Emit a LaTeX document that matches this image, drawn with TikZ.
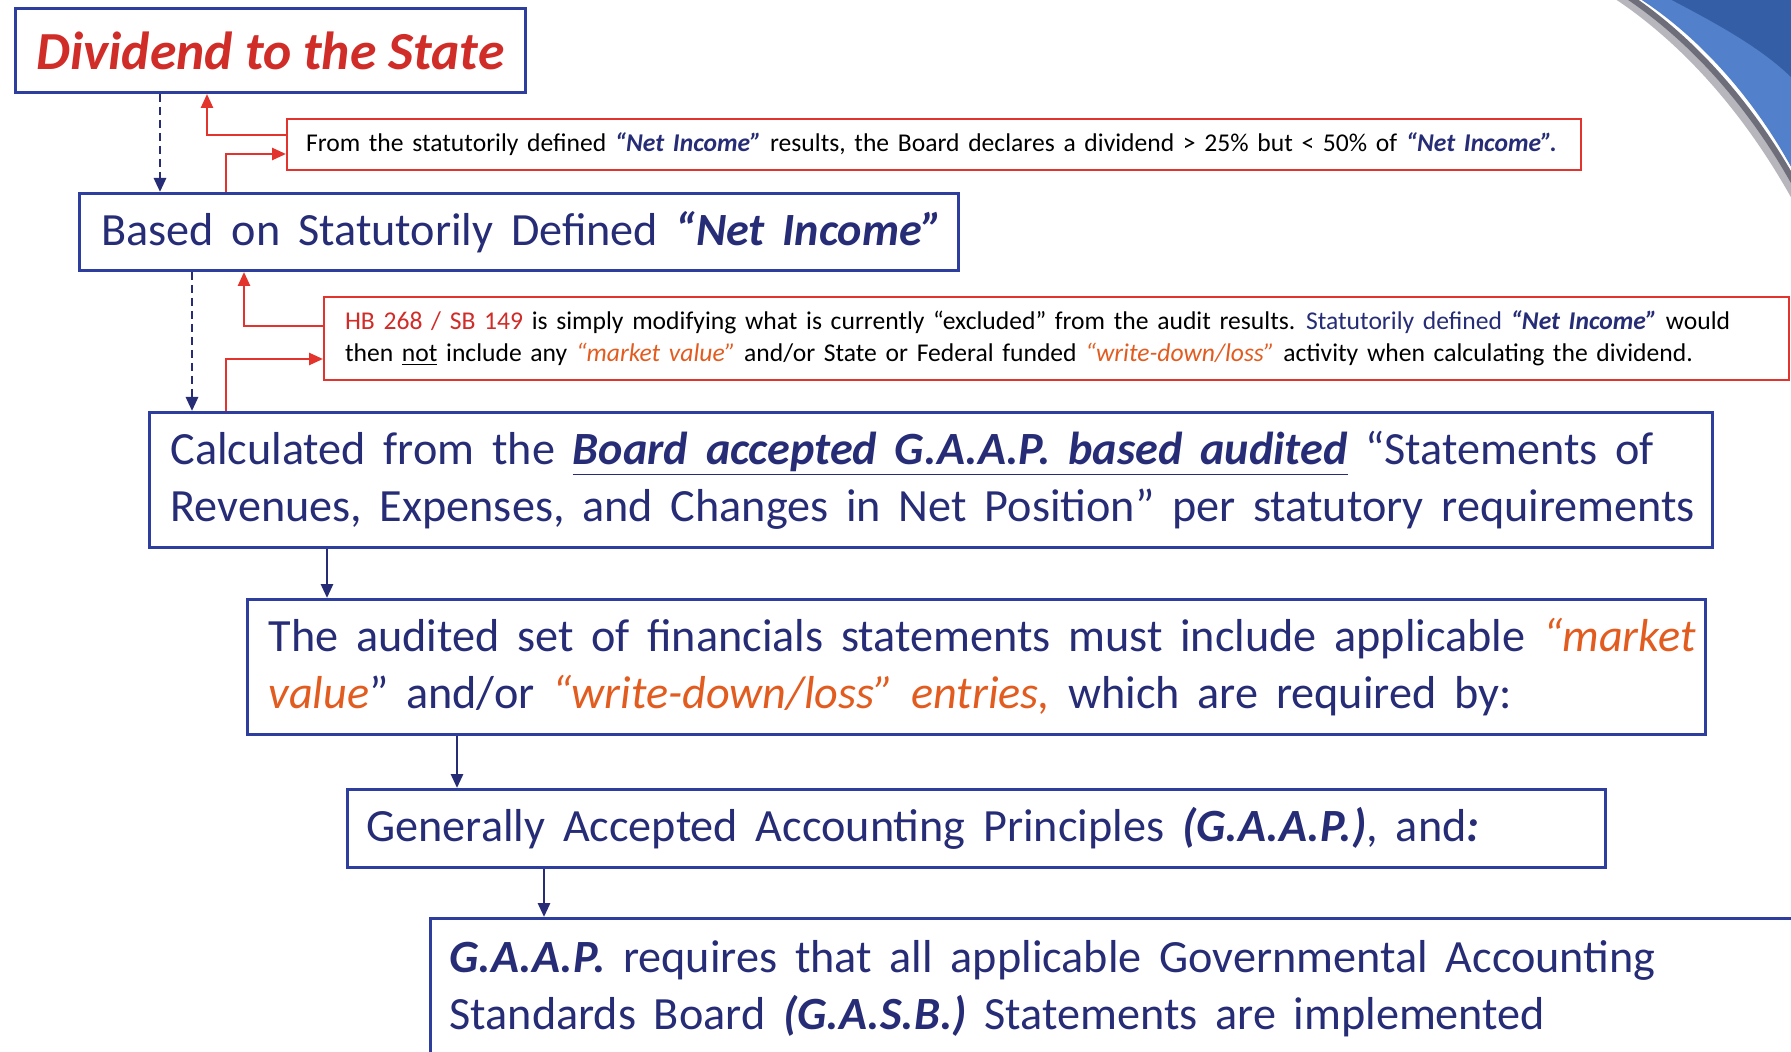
\documentclass[tikz,border=0pt]{standalone}
\usepackage{fontspec}
\setmainfont{Carlito}[WordSpace=1.7]
\newfontfamily\titlefont{Carlito}
\usetikzlibrary{arrows.meta}

\definecolor{boxblue}{RGB}{46,62,158}
\definecolor{navy}{RGB}{38,44,118}
\definecolor{titlered}{RGB}{208,44,40}
\definecolor{notered}{RGB}{226,52,44}
\definecolor{hilite}{RGB}{226,92,32}
\definecolor{swoopdark}{RGB}{52,94,166}
\definecolor{swooplight}{RGB}{82,128,202}
\definecolor{swoopshade}{RGB}{110,110,122}

\newcommand{\netinc}{\textcolor{navy}{\textbf{\textit{“Net Income”}}}}
\newcommand{\hl}[1]{\textcolor{hilite}{\textit{#1}}}

\begin{document}
\begin{tikzpicture}[x=0.5pt, y=-0.5pt,
  mainbox/.style={rectangle, draw=boxblue, line width=1.5pt, anchor=north west, align=flush left, text=navy, inner xsep=10.5pt, inner ysep=0pt, font=\fontsize{23.1}{28.5}\selectfont},
  notebox/.style={rectangle, draw=notered, line width=1pt, anchor=north west, align=flush left, inner xsep=10pt, inner ysep=0pt, font=\fontsize{12.8}{16}\selectfont, execute at begin node={\spaceskip=4.35pt plus 1.5pt minus 1pt}},
  flow/.style={-{Triangle[length=7pt,width=6pt]}, draw=navy, line width=1.4pt},
  dashflow/.style={flow, dash pattern=on 4pt off 2.5pt},
  redflow/.style={-{Triangle[length=7pt,width=6pt]}, draw=notered, line width=1.3pt}
]
\useasboundingbox[fill=white] (0,0) rectangle (1791,1052);

% slide decoration, top right
\draw[swoopshade, line width=6pt, opacity=0.5] (1620,-5) .. controls (1690,42) and (1750,112) .. (1796,194);
\draw[swoopshade, line width=3pt] (1626,-5) .. controls (1694,40) and (1753,108) .. (1796,186);
\fill[swooplight] (1634,-5) .. controls (1700,36) and (1757,102) .. (1796,176) -- (1796,-5) -- cycle;
\fill[swoopdark] (1662,-5) .. controls (1720,25) and (1765,50) .. (1796,82) -- (1796,-5) -- cycle;

% main chain
\node[mainbox, minimum width=254.5pt, minimum height=42pt, align=center, text=titlered, font=\titlefont\fontsize{26.8}{30}\selectfont\bfseries\itshape] (div) at (14,7) {Dividend to the State};
\node[mainbox, minimum width=439.5pt, text width=417.5pt, minimum height=38.5pt] (netinc) at (78,192) {\mbox{Based on Statutorily Defined \textbf{\textit{“Net Income”}}}};
\node[mainbox, minimum width=781.5pt, text width=760.5pt, minimum height=67.5pt] (calc) at (148,411) {\mbox{Calculated from the \textbf{\textit{\underline{Board accepted G.A.A.P. based audited}}} “Statements of}\\\mbox{Revenues, Expenses, and Changes in Net Position” per statutory requirements}};
\node[mainbox, minimum width=729pt, text width=708pt, minimum height=67.5pt] (audit) at (246,598) {\mbox{The audited set of financials statements must include applicable \hl{“market}}\\\mbox{\hl{value}” and/or \hl{“write-down/loss” entries,} which are required by:}};
\node[mainbox, minimum width=629pt, text width=610pt, inner xsep=9.5pt, minimum height=39pt] (gaap) at (346,788) {\mbox{Generally Accepted Accounting Principles \textbf{\textit{(G.A.A.P.)}}, and\textbf{\textit{:}}}};
\node[mainbox, minimum width=690pt, text width=671pt, inner xsep=9.5pt, minimum height=70pt] (gasb) at (429,917) {\mbox{\textbf{\textit{G.A.A.P.}} requires that all applicable Governmental Accounting}\\\mbox{Standards Board \textbf{\textit{(G.A.S.B.)}} Statements are implemented}};

% side notes
\node[notebox, minimum width=647pt, text width=628pt, inner xsep=9.5pt, minimum height=25.5pt] (note1) at (286,118) {\mbox{From the statutorily defined \netinc{} results, the Board declares a dividend > 25\% but < 50\% of \textcolor{navy}{\textbf{\textit{“Net Income”.}}}}};
\node[notebox, minimum width=732.5pt, text width=711.5pt, inner xsep=10.5pt, minimum height=41.5pt] (note2) at (323,296) {\mbox{\textcolor{titlered}{HB 268 / SB 149} is simply modifying what is currently “excluded” from the audit results. \textcolor{navy}{Statutorily defined} \netinc{} would}\\\mbox{then \underline{not} include any \hl{“market value”} and/or State or Federal funded \hl{“write-down/loss”} activity when calculating the dividend.}};

% x positions of the connectors
\coordinate (d1) at (160,0);
\coordinate (d2) at (192,0);
\coordinate (d3) at (327,0);
\coordinate (d4) at (457,0);
\coordinate (d5) at (544,0);
\coordinate (r1) at (207,135);
\coordinate (r2) at (226,154);
\coordinate (r3) at (244,326);
\coordinate (r4) at (226,359);

\draw[dashflow] (div.south -| d1) -- (netinc.north -| d1);
\draw[dashflow] (netinc.south -| d2) -- (calc.north -| d2);
\draw[flow] (calc.south -| d3) -- (audit.north -| d3);
\draw[flow] (audit.south -| d4) -- (gaap.north -| d4);
\draw[flow] (gaap.south -| d5) -- (gasb.north -| d5);

\draw[redflow] (note1.west |- r1) -| (div.south -| r1);
\draw[redflow] (netinc.north -| r2) |- (note1.west |- r2);
\draw[redflow] (note2.west |- r3) -| (netinc.south -| r3);
\draw[redflow] (calc.north -| r4) |- (note2.west |- r4);
\end{tikzpicture}
\end{document}
